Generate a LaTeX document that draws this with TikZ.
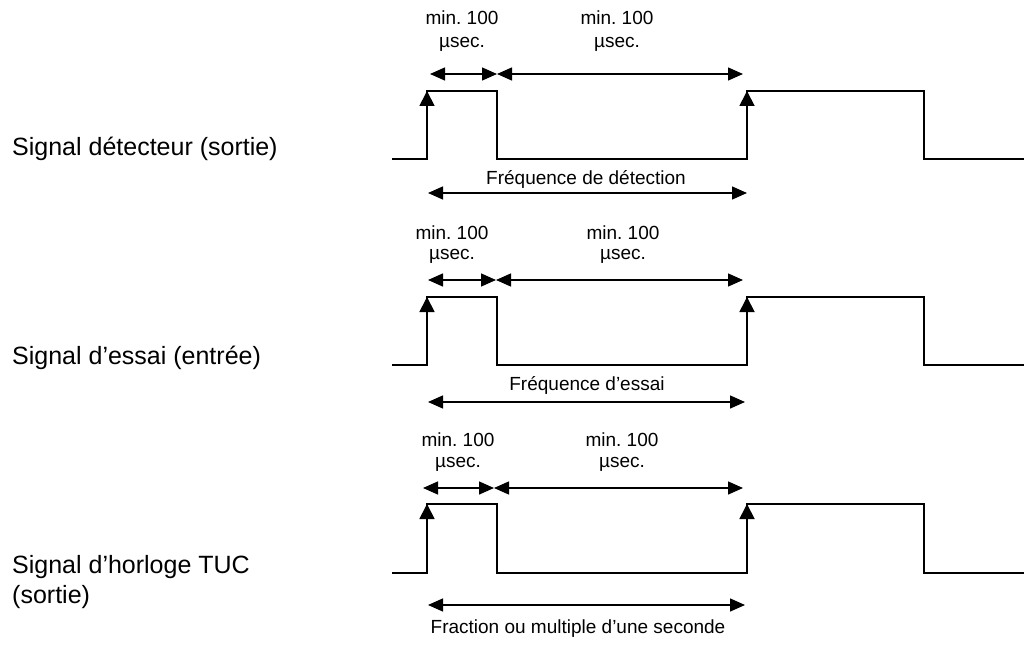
\documentclass[tikz,border=0pt]{standalone}
\usepackage{fontspec}
\setmainfont{Liberation Sans}
\usetikzlibrary{arrows.meta}
\frenchspacing
\begin{document}
\begin{tikzpicture}[x=1pt,y=-1pt,
  wave/.style={line width=1.8pt,line join=miter},
  edge/.style={line width=1.8pt,-{Triangle[length=15pt,width=15pt]}},
  dim/.style={line width=1.4pt,{Triangle[length=15pt,width=13pt]}-{Triangle[length=15pt,width=13pt]}},
  biglbl/.style={inner sep=0pt,font=\fontsize{25}{30}\selectfont,anchor=base west},
  smalllbl/.style={inner sep=0pt,font=\fontsize{19}{22}\selectfont,anchor=base}]
\useasboundingbox (0,0) rectangle (1024,647);
% waveforms
\foreach \r/\b/\h in {1/159/91, 2/365/297, 3/573/504} {
  \coordinate (w\r0) at (392,\b);
  \coordinate (w\r1) at (427,\b);
  \coordinate (w\r2) at (427,\h);
  \coordinate (w\r3) at (497,\h);
  \coordinate (w\r4) at (497,\b);
  \coordinate (w\r5) at (747,\b);
  \coordinate (w\r6) at (747,\h);
  \coordinate (w\r7) at (924,\h);
  \coordinate (w\r8) at (924,\b);
  \coordinate (w\r9) at (1026,\b);
  \draw[wave] (w\r0) -- (w\r1) -- (w\r2) -- (w\r3) -- (w\r4) -- (w\r5) -- (w\r6) -- (w\r7) -- (w\r8) -- (w\r9);
  \draw[edge] (w\r1) -- (w\r2);
  \draw[edge] (w\r5) -- (w\r6);
}
% left labels
\node[biglbl] (l1) at (12,156) {Signal détecteur (sortie)};
\node[biglbl] (l2) at (12,364) {Signal d’essai (entrée)};
\node[biglbl] (l3a) at (12,573) {Signal d’horloge TUC};
\node[biglbl] (l3b) at (12,603) {(sortie)};
% row 1 dimensions
\coordinate (a1) at (430,74); \coordinate (b1) at (497,74); \coordinate (c1) at (743,74);
\draw[dim] (a1) -- (b1);
\draw[dim] (b1) -- (c1);
\node[smalllbl] (m11) at (462,25) {min. 100};
\node[smalllbl] (u11) at (462,48) {µsec.};
\node[smalllbl] (m12) at (617,25) {min. 100};
\node[smalllbl] (u12) at (617,48) {µsec.};
\coordinate (f1a) at (428,193); \coordinate (f1b) at (747,193);
\draw[dim] (f1a) -- (f1b);
\node[smalllbl] (t1) at (586,184) {Fréquence de détection};
% row 2 dimensions
\coordinate (a2) at (428,280); \coordinate (b2) at (496,280); \coordinate (c2) at (743,280);
\draw[dim] (a2) -- (b2);
\draw[dim] (b2) -- (c2);
\node[smalllbl] (m21) at (452,239) {min. 100};
\node[smalllbl] (u21) at (452,259) {µsec.};
\node[smalllbl] (m22) at (623,239) {min. 100};
\node[smalllbl] (u22) at (623,259) {µsec.};
\coordinate (f2a) at (428,402); \coordinate (f2b) at (745,402);
\draw[dim] (f2a) -- (f2b);
\node[smalllbl] (t2) at (587,390) {Fréquence d’essai};
% row 3 dimensions
\coordinate (a3) at (423,488); \coordinate (b3) at (494,488); \coordinate (c3) at (743,488);
\draw[dim] (a3) -- (b3);
\draw[dim] (b3) -- (c3);
\node[smalllbl] (m31) at (458,446) {min. 100};
\node[smalllbl] (u31) at (458,467) {µsec.};
\node[smalllbl] (m32) at (622,446) {min. 100};
\node[smalllbl] (u32) at (622,467) {µsec.};
\coordinate (f3a) at (428,605); \coordinate (f3b) at (745,605);
\draw[dim] (f3a) -- (f3b);
\node[smalllbl] (t3) at (578,633) {Fraction ou multiple d’une seconde};
\end{tikzpicture}
\end{document}
